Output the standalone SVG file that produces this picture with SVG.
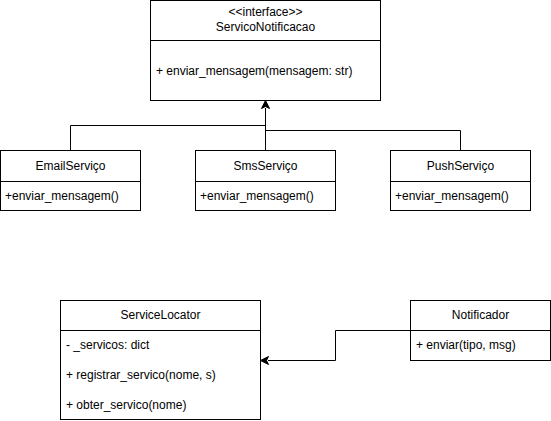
<svg xmlns="http://www.w3.org/2000/svg" width="551" height="421" viewBox="0 0 551 421">
  <style>
    .box { fill: #ffffff; stroke: #000000; stroke-width: 1; }
    .sep { stroke: #000000; stroke-width: 1; fill: none; }
    .edge { stroke: #000000; stroke-width: 1; fill: none; }
    .head { fill: #000000; stroke: #000000; stroke-width: 1; }
    text { font-family: "Liberation Sans", Arial, Helvetica, sans-serif; font-size: 12px; fill: #000000; }
    .c { text-anchor: middle; }
  </style>
  <defs>
    <!-- filled arrowhead, tip at origin, pointing up -->
    <path id="head" class="head" d="M0,0 L4,8 L0,6 L-4,8 Z"/>
  </defs>
  <rect width="551" height="421" fill="#ffffff"/>

  <g id="connectors">
    <path class="edge" d="M70.5,150 V125.5 H265.5"/>
    <path class="edge" d="M460.5,150 V130.5 H265.5"/>
    <path class="edge" d="M265.5,150 V108"/>
    <use href="#head" transform="translate(265.5,100.5)"/>
    <path class="edge" d="M410.5,330.5 H335.5 V360.5 H268"/>
    <use href="#head" transform="translate(260.5,360.5) rotate(-90)"/>
  </g>

  <g id="ServicoNotificacao">
    <rect class="box" x="150.5" y="0.5" width="230" height="100"/>
    <line class="sep" x1="150.5" y1="40.5" x2="380.5" y2="40.5"/>
    <text class="c" x="265.5" y="16">&lt;&lt;interface&gt;&gt;</text>
    <text class="c" x="265.5" y="31">ServicoNotificacao</text>
    <text x="156" y="75">+ enviar_mensagem(mensagem: str)</text>
  </g>

  <g id="EmailServico">
    <rect class="box" x="0.5" y="150.5" width="140" height="60"/>
    <line class="sep" x1="0.5" y1="181.5" x2="140.5" y2="181.5"/>
    <text class="c" x="70.5" y="170">EmailServiço</text>
    <text x="5" y="200">+enviar_mensagem()</text>
  </g>

  <g id="SmsServico">
    <rect class="box" x="195.5" y="150.5" width="140" height="60"/>
    <line class="sep" x1="195.5" y1="181.5" x2="335.5" y2="181.5"/>
    <text class="c" x="265.5" y="170">SmsServiço</text>
    <text x="200" y="200">+enviar_mensagem()</text>
  </g>

  <g id="PushServico">
    <rect class="box" x="390.5" y="150.5" width="140" height="60"/>
    <line class="sep" x1="390.5" y1="181.5" x2="530.5" y2="181.5"/>
    <text class="c" x="460.5" y="170">PushServiço</text>
    <text x="395" y="200">+enviar_mensagem()</text>
  </g>

  <g id="ServiceLocator">
    <rect class="box" x="60.5" y="300.5" width="200" height="119"/>
    <line class="sep" x1="60.5" y1="330.5" x2="260.5" y2="330.5"/>
    <text class="c" x="160.5" y="319">ServiceLocator</text>
    <text x="66" y="349">- _servicos: dict</text>
    <text x="66" y="379">+ registrar_servico(nome, s)</text>
    <text x="66" y="409">+ obter_servico(nome)</text>
  </g>

  <g id="Notificador">
    <rect class="box" x="410.5" y="300.5" width="140" height="60"/>
    <line class="sep" x1="410.5" y1="330.5" x2="550.5" y2="330.5"/>
    <text class="c" x="480.5" y="319">Notificador</text>
    <text x="416" y="349">+ enviar(tipo, msg)</text>
  </g>
</svg>
